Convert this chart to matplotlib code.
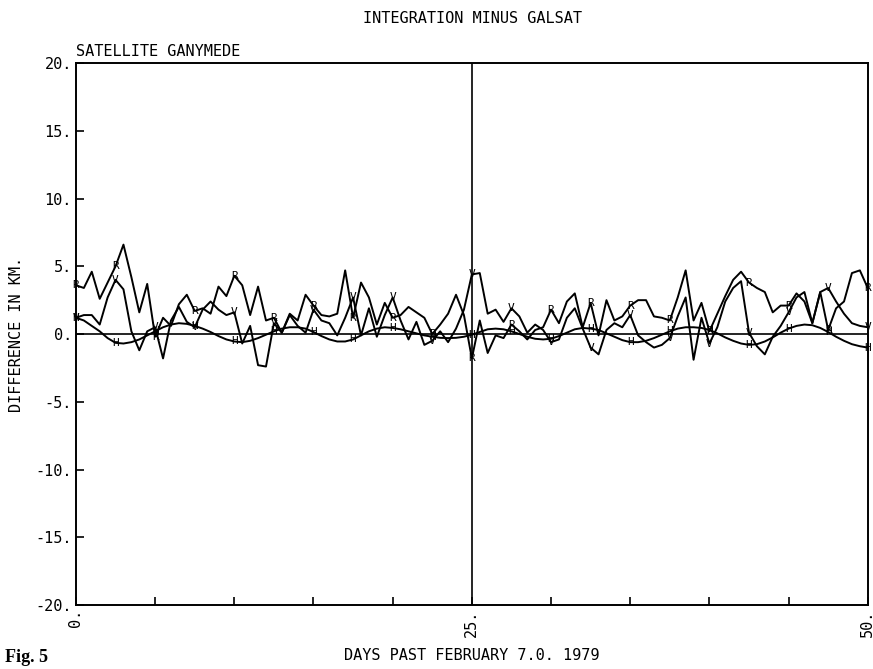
import matplotlib
matplotlib.use("Agg")
import matplotlib.pyplot as plt
import numpy as np

# days past Feb 7.0 1979, sampled every half day
days = np.arange(0, 50.01, 0.5)

# R residual (km)
r_diff = [3.6, 3.4, 4.6, 2.6, 3.8, 5.0, 6.6, 4.2, 1.6, 3.7,
          -0.2, 1.2, 0.6, 2.2, 2.9, 1.7, 1.9, 1.5, 3.5, 2.8,
          4.3, 3.6, 1.4, 3.5, 1.0, 1.2, 0.1, 1.5, 1.0, 2.9,
          2.1, 1.4, 1.3, 1.5, 4.7, 1.2, 3.8, 2.7, 0.7, 2.3,
          1.2, 1.4, 2.0, 1.6, 1.2, 0.0, 0.7, 1.5, 2.9, 1.4,
          -1.8, 1.0, -1.4, -0.1, -0.3, 0.7, 0.2, -0.4, 0.3, 0.5,
          1.8, 0.8, 2.4, 3.0, 0.5, 2.3, -0.1, 2.5, 1.0, 1.3,
          2.1, 2.5, 2.5, 1.3, 1.2, 1.0, 2.7, 4.7, 1.0, 2.3,
          0.2, 1.5, 2.8, 4.0, 4.6, 3.8, 3.4, 3.1, 1.6, 2.1,
          2.1, 3.0, 2.4, 0.8, 3.1, 0.3, 1.9, 2.4, 4.5, 4.7,
          3.4]

# V residual (km)
v_diff = [1.2, 1.4, 1.4, 0.7, 2.7, 4.0, 3.3, 0.2, -1.2, 0.2,
          0.5, -1.8, 1.0, 2.0, 0.9, 0.5, 1.8, 2.4, 1.8, 1.4,
          1.6, -0.7, 0.6, -2.3, -2.4, 0.8, 0.1, 1.4, 0.6, 0.1,
          1.8, 1.0, 0.8, -0.1, 1.2, 2.7, -0.1, 1.9, -0.2, 1.4,
          2.7, 1.0, -0.4, 0.9, -0.8, -0.5, 0.2, -0.6, 0.4, 1.8,
          4.4, 4.5, 1.5, 1.8, 0.9, 1.9, 1.3, 0.1, 0.7, 0.3,
          -0.6, -0.4, 1.2, 1.9, 0.4, -1.0, -1.5, 0.3, 0.8, 0.5,
          1.4, -0.1, -0.6, -1.0, -0.8, -0.3, 1.3, 2.7, -1.9, 1.2,
          -0.7, 0.5, 2.4, 3.4, 3.9, 0.1, -0.9, -1.5, -0.2, 0.6,
          1.6, 2.7, 3.1, 0.8, 3.1, 3.4, 2.4, 1.5, 0.8, 0.6,
          0.5]

# H residual (km)
h_diff = [1.2, 1.0, 0.6, 0.2, -0.3, -0.65, -0.7, -0.6, -0.4, -0.1,
          0.2, 0.5, 0.7, 0.8, 0.75, 0.6, 0.4, 0.15, -0.15, -0.4,
          -0.55, -0.6, -0.5, -0.3, -0.05, 0.2, 0.4, 0.5, 0.5, 0.4,
          0.15, -0.15, -0.4, -0.55, -0.55, -0.4, -0.1, 0.2, 0.4, 0.5,
          0.45, 0.35, 0.2, 0.05, -0.1, -0.2, -0.28, -0.3, -0.28, -0.2,
          -0.05, 0.15, 0.35, 0.4, 0.35, 0.2, 0.0, -0.2, -0.35, -0.4,
          -0.35, -0.15, 0.1, 0.35, 0.45, 0.4, 0.3, 0.05, -0.2, -0.45,
          -0.6, -0.6, -0.5, -0.3, -0.05, 0.2, 0.4, 0.5, 0.5, 0.45,
          0.3, 0.05, -0.25, -0.5, -0.7, -0.8, -0.75, -0.55, -0.25, 0.1,
          0.4, 0.6, 0.7, 0.65, 0.45, 0.15, -0.2, -0.5, -0.75, -0.9,
          -1.0]

series = [("R", r_diff), ("V", v_diff), ("H", h_diff)]
y_ticks = [-20, -15, -10, -5, 0, 5, 10, 15, 20]
x_labelled = [0, 25, 50]

mono = "DejaVu Sans Mono"

fig = plt.figure(figsize=(8.73, 6.69), dpi=100, facecolor="white")
ax = fig.add_axes([0.087, 0.0957, 0.907, 0.810])

for letter, vals in series:
    vals = np.asarray(vals)
    ax.plot(days, vals, color="black", lw=1.4, zorder=3)
    # plotter letters every 2.5 days
    for d, v in zip(days[::5], vals[::5]):
        ax.text(d, v, letter, family=mono, fontsize=8, ha="center",
                va="center", zorder=4)

ax.axhline(0, color="black", lw=1.2, zorder=2)
ax.axvline(25, color="black", lw=1.2, zorder=2)

ax.set_xlim(0, 50)
ax.set_ylim(-20, 20)
for s in ax.spines.values():
    s.set_linewidth(1.4)

ax.set_xticks(np.arange(0, 51, 5))
ax.set_xticklabels([f"{t}." if t in x_labelled else "" for t in range(0, 51, 5)],
                   rotation=90, family=mono, fontsize=11)
ax.set_yticks(y_ticks)
ax.set_yticklabels([f"{t}." for t in y_ticks], family=mono, fontsize=11)
ax.tick_params(direction="in", length=6, width=1.2, pad=3)

ax.set_ylabel("DIFFERENCE IN KM.", family=mono, fontsize=11, labelpad=8)
ax.set_xlabel("DAYS PAST FEBRUARY 7.0. 1979", family=mono, fontsize=11,
              labelpad=8)
ax.text(0, 1.008, "SATELLITE GANYMEDE", transform=ax.transAxes,
        family=mono, fontsize=11, ha="left", va="bottom")
fig.text(0.541, 0.972, "INTEGRATION MINUS GALSAT", family=mono,
         fontsize=11, ha="center", va="center")
fig.text(0.006, 0.005, "Fig. 5", family="Liberation Serif",
         fontweight="bold", fontsize=13, ha="left", va="bottom")

fig.savefig("out.png", dpi=100, facecolor="white")
